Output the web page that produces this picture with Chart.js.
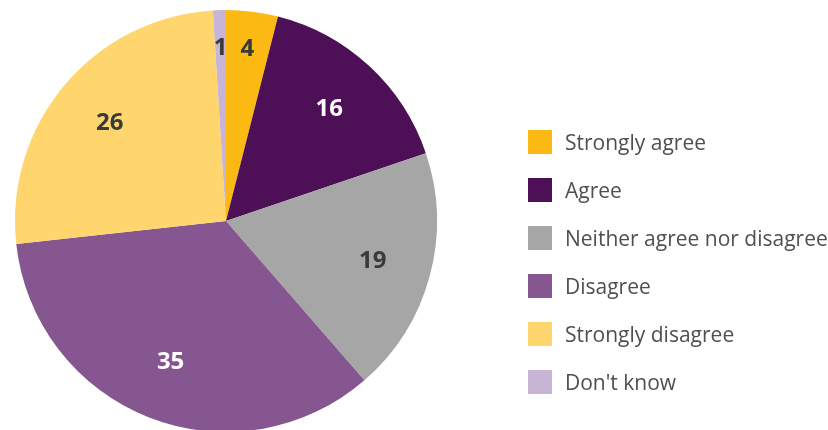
<!DOCTYPE html>
<html>
<head>
<meta charset="utf-8">
<script src="https://cdn.jsdelivr.net/npm/chart.js@4"></script>
<style>
  html, body { margin: 0; padding: 0; background: #fff; overflow: hidden; width: 828px; height: 430px; }
  #wrap { position: absolute; left: 0; top: 0; width: 828px; height: 442px; }
  #legend { position: absolute; left: 0; top: 0; width: 828px; height: 430px; pointer-events: none; }
  .item { position: absolute; left: 528px; height: 24px; display: flex; align-items: center; }
  .box { width: 24px; height: 24px; flex: none; }
  .txt { margin-left: 13px; font-family: "Open Sans", sans-serif; font-size: 21px; color: #4f4f4f; white-space: nowrap; line-height: 24px; }
</style>
</head>
<body>
<div id="wrap"><canvas id="c" width="828" height="442"></canvas></div>
<div id="legend"></div>
<script>
const categories = ["Strongly agree", "Agree", "Neither agree nor disagree", "Disagree", "Strongly disagree", "Don't know"];
const values = [4, 16, 19, 35, 26, 1];
const colors = ["#FDB913", "#4D0F55", "#A6A6A6", "#85568F", "#FFD66E", "#C8B4D4"];
const labelColors = ["#3a3a3a", "#ffffff", "#3a3a3a", "#ffffff", "#3a3a3a", "#3a3a3a"];

const sliceLabels = {
  id: 'sliceLabels',
  afterDatasetsDraw(chart) {
    const ctx = chart.ctx;
    const meta = chart.getDatasetMeta(0);
    const total = values.reduce((a, b) => a + b, 0);
    ctx.save();
    ctx.font = 'bold 24px "Open Sans", sans-serif';
    ctx.textAlign = 'center';
    ctx.textBaseline = 'middle';
    meta.data.forEach((arc, i) => {
      const p = arc.getProps(['x', 'y', 'startAngle', 'endAngle', 'outerRadius'], true);
      const mid = (p.startAngle + p.endAngle) / 2;
      const frac = values[i] / total < 0.06 ? 0.82 : 0.72;
      const r = p.outerRadius * frac;
      ctx.fillStyle = labelColors[i];
      ctx.fillText(String(values[i]), p.x + Math.cos(mid) * r, p.y + Math.sin(mid) * r);
    });
    ctx.restore();
  }
};

new Chart(document.getElementById('c'), {
  type: 'pie',
  data: {
    labels: categories,
    datasets: [{ data: values, backgroundColor: colors, borderWidth: 0 }]
  },
  options: {
    responsive: false,
    devicePixelRatio: 1,
    animation: false,
    layout: { padding: { left: 15, right: 391, top: 10, bottom: 10 } },
    plugins: { legend: { display: false }, tooltip: { enabled: false } }
  },
  plugins: [sliceLabels]
});

const legend = document.getElementById('legend');
categories.forEach((name, i) => {
  const item = document.createElement('div');
  item.className = 'item';
  item.style.top = (130 + i * 48) + 'px';
  const box = document.createElement('div');
  box.className = 'box';
  box.style.background = colors[i];
  const txt = document.createElement('div');
  txt.className = 'txt';
  txt.textContent = name;
  item.appendChild(box);
  item.appendChild(txt);
  legend.appendChild(item);
});
</script>
</body>
</html>
